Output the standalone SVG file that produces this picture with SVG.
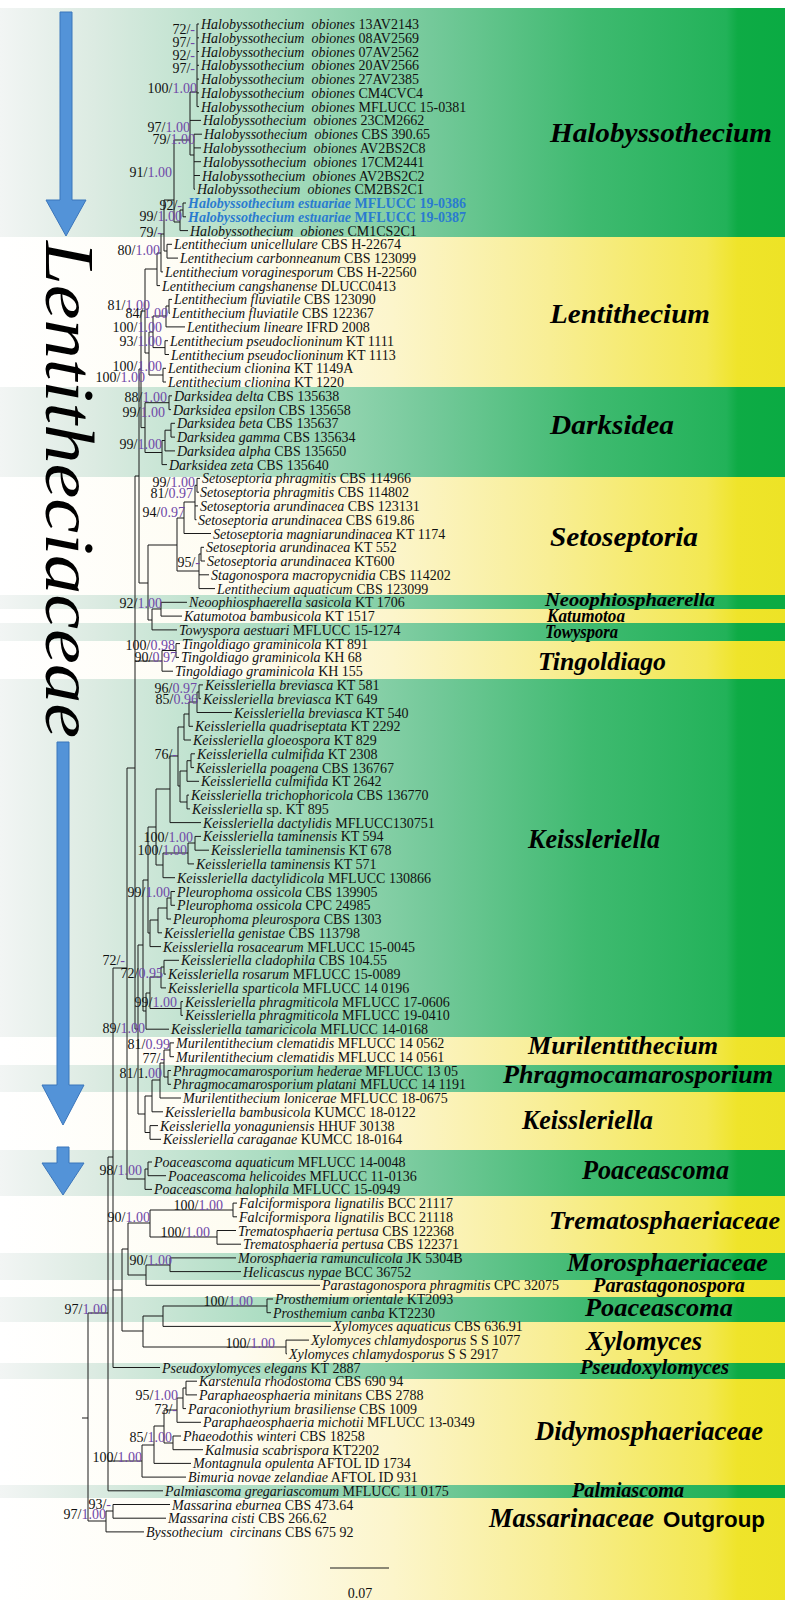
<svg xmlns="http://www.w3.org/2000/svg" width="785" height="1607" viewBox="0 0 785 1607">
<defs>
<linearGradient id="gG" x1="0" y1="0" x2="785" y2="0" gradientUnits="userSpaceOnUse">
<stop offset="0" stop-color="#f2f5f4"/><stop offset="0.12" stop-color="#dcebe2"/><stop offset="0.35" stop-color="#a9dcc0"/><stop offset="0.55" stop-color="#74c99a"/><stop offset="0.75" stop-color="#3fba70"/><stop offset="0.925" stop-color="#22b259"/><stop offset="0.94" stop-color="#0eab45"/><stop offset="1" stop-color="#0aab43"/>
</linearGradient>
<linearGradient id="gY" x1="0" y1="0" x2="785" y2="0" gradientUnits="userSpaceOnUse">
<stop offset="0" stop-color="#ffffff"/><stop offset="0.3" stop-color="#fefcf1"/><stop offset="0.5" stop-color="#fcf5cb"/><stop offset="0.7" stop-color="#f8ee95"/><stop offset="0.9" stop-color="#f3e852"/><stop offset="0.94" stop-color="#efe42a"/><stop offset="1" stop-color="#ede326"/>
</linearGradient>
<style>
.t{font-family:"Liberation Serif",serif;font-size:14px;fill:#111}
.i{font-style:italic}
.b{fill:#2a7bd0;font-weight:bold}
.s{font-family:"Liberation Serif",serif;font-size:14px;fill:#111;text-anchor:end}
.p{fill:#7048a8}
.c{font-family:"Liberation Serif",serif;font-weight:bold;font-style:italic;fill:#000}
.e{fill:none;stroke:#1a1a1a;stroke-width:1}
.ar{fill:#5393d8;stroke:#3b76bb;stroke-width:1}
</style>
</defs>
<g id="background">
<rect width="785" height="1607" fill="#fff"/>
<g fill="url(#gG)">
<rect x="0" y="8" width="785" height="229"/><rect x="0" y="387" width="785" height="90"/><rect x="0" y="595" width="785" height="14"/><rect x="0" y="623" width="785" height="18"/><rect x="0" y="679" width="785" height="358"/><rect x="0" y="1065" width="785" height="27"/><rect x="0" y="1150" width="785" height="46"/><rect x="0" y="1253" width="785" height="27"/><rect x="0" y="1297" width="785" height="25"/><rect x="0" y="1363" width="785" height="16"/><rect x="0" y="1485" width="785" height="13"/>
</g>
<g fill="url(#gY)">
<rect x="0" y="237" width="785" height="150"/><rect x="0" y="477" width="785" height="118"/><rect x="0" y="609" width="785" height="14"/><rect x="0" y="641" width="785" height="38"/><rect x="0" y="1037" width="785" height="28"/><rect x="0" y="1092" width="785" height="58"/><rect x="0" y="1196" width="785" height="57"/><rect x="0" y="1280" width="785" height="17"/><rect x="0" y="1322" width="785" height="41"/><rect x="0" y="1379" width="785" height="106"/><rect x="0" y="1498" width="785" height="102"/>
</g>
</g>
<g id="family-marker">
<polygon class="ar" points="60,12 72,12 72,200 86,200 66,236 46,200 60,200"/>
<polygon class="ar" points="57,742 69,742 69,1085 84,1085 63,1125 42,1085 57,1085"/>
<polygon class="ar" points="57,1147 69,1147 69,1163 84,1163 63,1195 42,1163 57,1163"/>
<text transform="translate(46,241) rotate(90)" font-family="Liberation Serif,serif" font-style="italic" font-size="70" textLength="497" lengthAdjust="spacingAndGlyphs" fill="#000">Lentitheciaceae</text>
</g>
<g id="connectors" class="e">
<path d="M197 24V106.6M197 24H199M197 37.8H199M197 51.5H199M197 65.3H199M197 79.1H199M197 92.9H199M197 106.6H199"/>
<path d="M194 134.2V189.2M194 134.2H202M194 147.9H201M194 161.7H201M194 175.5H200M194 189.2H195"/>
<path d="M190 92V155M190 92H197M190 120.4H201M190 155H194"/>
<path d="M183 203V216.8M183 203H186M183 216.8H186"/>
<path d="M180 210V230.6M180 210H183M180 230.6H188"/>
<path d="M174 140V222M174 140H190M174 222H180"/>
<path d="M167 244.3V258.1M167 244.3H172M167 258.1H178"/>
<path d="M164 200V251M164 200H174M164 251H167"/>
<path d="M161 234V271.9M161 234H164M161 271.9H163"/>
<path d="M157 253V285.6M157 253H161M157 285.6H160"/>
<path d="M169 299.4V313.2M169 299.4H172M169 313.2H170"/>
<path d="M166 306V326.9M166 306H169M166 326.9H185"/>
<path d="M165 340.7V354.5M165 340.7H168M165 354.5H169"/>
<path d="M153 316V347.6M153 316H166M153 347.6H165"/>
<path d="M163 368.3V382M163 368.3H166M163 382H166"/>
<path d="M149 332V375M149 332H153M149 375H163"/>
<path d="M145 269V353M145 269H157M145 353H149"/>
<path d="M169 395.8V409.6M169 395.8H172M169 409.6H171"/>
<path d="M171 423.3V437.1M171 423.3H175M171 437.1H175"/>
<path d="M165 430.2V450.9M165 430.2H171M165 450.9H175"/>
<path d="M162 440.5V464.6M162 440.5H165M162 464.6H167"/>
<path d="M145 402.7V452.5M145 402.7H169M145 452.5H162"/>
<path d="M141 311V427.6M141 311H145M141 427.6H145"/>
<path d="M197 478.4V492.2M197 478.4H200M197 492.2H199"/>
<path d="M195 485.3V519.7M195 485.3H197M195 505.9H198M195 519.7H196.5"/>
<path d="M184 502V533.5M184 502H195M184 533.5H211"/>
<path d="M201 547.3V561M201 547.3H204M201 561H205"/>
<path d="M199 554V588.6M199 554H201M199 574.8H209M199 588.6H215"/>
<path d="M177 518V571M177 518H184M177 571H199"/>
<path d="M161 602.3V616.1M161 602.3H187M161 616.1H182"/>
<path d="M152 609V629.9M152 609H161M152 629.9H177"/>
<path d="M148 545V620M148 545H177M148 620H152"/>
<path d="M139 369V583M139 369H141M139 583H148"/>
<path d="M176 643.6V657.4M176 643.6H180M176 657.4H179"/>
<path d="M162 650.5V671.2M162 650.5H176M162 671.2H173"/>
<path d="M199 684.9V698.7M199 684.9H203M199 698.7H201"/>
<path d="M197 692V712.5M197 692H199M197 712.5H232"/>
<path d="M189 702V726.3M189 702H197M189 726.3H193"/>
<path d="M184 714V740M184 714H189M184 740H191"/>
<path d="M191 753.8V767.6M191 753.8H195M191 767.6H194"/>
<path d="M187 760.7V781.3M187 760.7H191M187 781.3H199"/>
<path d="M187 795.1V808.9M187 795.1H189M187 808.9H190"/>
<path d="M180 771V802M180 771H187M180 802H187"/>
<path d="M178 727V786M178 727H184M178 786H180"/>
<path d="M170 756V822.6M170 756H178M170 822.6H201"/>
<path d="M195 836.4V850.2M195 836.4H201M195 850.2H209"/>
<path d="M188 843V863.9M188 843H195M188 863.9H194"/>
<path d="M163 853V877.7M163 853H188M163 877.7H175"/>
<path d="M156 789V865M156 789H170M156 865H163"/>
<path d="M171 891.5V905.3M171 891.5H175M171 905.3H175"/>
<path d="M167 898V919M167 898H171M167 919H171"/>
<path d="M158 908V932.8M158 908H167M158 932.8H162"/>
<path d="M150 920V946.6M150 920H158M150 946.6H161"/>
<path d="M148 827V933M148 827H156M148 933H150"/>
<path d="M164 960.3V974.1M164 960.3H179M164 974.1H166"/>
<path d="M161 967V987.9M161 967H164M161 987.9H166"/>
<path d="M181 1001.6V1015.4M181 1001.6H183M181 1015.4H183"/>
<path d="M150 977V1008.5M150 977H161M150 1008.5H181"/>
<path d="M146 993V1029.2M146 993H150M146 1029.2H169"/>
<path d="M143 880V1011M143 880H148M143 1011H146"/>
<path d="M170 1042.9V1056.7M170 1042.9H174M170 1056.7H174"/>
<path d="M168 1070.5V1084.3M168 1070.5H171M168 1084.3H171"/>
<path d="M164 1050V1077M164 1050H170M164 1077H168"/>
<path d="M160 1063V1098M160 1063H164M160 1098H181"/>
<path d="M152 1080V1111.8M152 1080H160M152 1111.8H163"/>
<path d="M150 1125.6V1139.3M150 1125.6H158M150 1139.3H161"/>
<path d="M145 1096V1132.5M145 1096H152M145 1132.5H150"/>
<path d="M138 945V1114M138 945H143M138 1114H145"/>
<path d="M135 476V1029M135 476H139M135 661H162M135 1029H138"/>
<path d="M148 1162V1175.7M148 1162H152M148 1175.7H166"/>
<path d="M145 1169V1189.4M145 1169H148M145 1189.4H152"/>
<path d="M127 768V1179M127 768H135M127 1179H145"/>
<path d="M233 1203.1V1216.8M233 1203.1H237M233 1216.8H237"/>
<path d="M217 1230.5V1244.2M217 1230.5H236M217 1244.2H241"/>
<path d="M150 1210V1237M150 1210H233M150 1237H217"/>
<path d="M170 1257.9V1271.6M170 1257.9H236M170 1271.6H241"/>
<path d="M146 1265V1285.3M146 1265H170M146 1285.3H320"/>
<path d="M128 1223V1275M128 1223H150M128 1275H146"/>
<path d="M267 1299V1312.7M267 1299H273M267 1312.7H271"/>
<path d="M163 1306V1326.4M163 1306H267M163 1326.4H331"/>
<path d="M286 1340.1V1353.8M286 1340.1H309M286 1353.8H287"/>
<path d="M143 1316V1347M143 1316H163M143 1347H286"/>
<path d="M122 1249V1331M122 1249H128M122 1331H143"/>
<path d="M113 968V1367.5M113 968H127M113 1290H122M113 1367.5H160"/>
<path d="M186 1381.2V1394.9M186 1381.2H197M186 1394.9H197"/>
<path d="M183 1388V1408.6M183 1388H186M183 1408.6H186"/>
<path d="M177 1398V1422.3M177 1398H183M177 1422.3H201"/>
<path d="M173 1436V1449.7M173 1436H181M173 1449.7H203"/>
<path d="M164 1410V1443M164 1410H177M164 1443H173"/>
<path d="M154 1426V1463.4M154 1426H164M154 1463.4H191"/>
<path d="M142 1445V1477.1M142 1445H154M142 1477.1H186"/>
<path d="M108 1157V1490.8M108 1157H113M108 1461H142M108 1490.8H163"/>
<path d="M113 1504.5V1518.2M113 1504.5H170M113 1518.2H166"/>
<path d="M106 1511V1531.9M106 1511H113M106 1531.9H144"/>
<path d="M88 1313V1521M88 1313H108M88 1521H106M82 1418H88"/>
</g>
<g id="supports" class="s">
<text x="195" y="34">72/<tspan class="p">-</tspan></text>
<text x="195" y="47">97/<tspan class="p">-</tspan></text>
<text x="195" y="60">92/<tspan class="p">-</tspan></text>
<text x="195" y="73">97/<tspan class="p">-</tspan></text>
<text x="197" y="93">100/<tspan class="p">1.00</tspan></text>
<text x="190" y="132">97/<tspan class="p">1.00</tspan></text>
<text x="195" y="144">79/<tspan class="p">1.00</tspan></text>
<text x="172" y="177">91/<tspan class="p">1.00</tspan></text>
<text x="182" y="210">92/<tspan class="p">-</tspan></text>
<text x="182" y="221">99/<tspan class="p">1.00</tspan></text>
<text x="162" y="237">79/<tspan class="p">-</tspan></text>
<text x="160" y="255">80/<tspan class="p">1.00</tspan></text>
<text x="150" y="310">81/<tspan class="p">1.00</tspan></text>
<text x="168" y="318">84/<tspan class="p">1.00</tspan></text>
<text x="162" y="332">100/<tspan class="p">1.00</tspan></text>
<text x="162" y="346">93/<tspan class="p">1.00</tspan></text>
<text x="162" y="371">100/<tspan class="p">1.00</tspan></text>
<text x="145" y="382">100/<tspan class="p">1.00</tspan></text>
<text x="167" y="402">88/<tspan class="p">1.00</tspan></text>
<text x="165" y="417">99/<tspan class="p">1.00</tspan></text>
<text x="162" y="449">99/<tspan class="p">1.00</tspan></text>
<text x="195" y="487">99/<tspan class="p">1.00</tspan></text>
<text x="193" y="498">81/<tspan class="p">0.97</tspan></text>
<text x="185" y="517">94/<tspan class="p">0.97</tspan></text>
<text x="200" y="567">95/<tspan class="p">-</tspan></text>
<text x="162" y="608">92/<tspan class="p">1.00</tspan></text>
<text x="175" y="650">100/<tspan class="p">0.98</tspan></text>
<text x="177" y="662">90/<tspan class="p">0.97</tspan></text>
<text x="197" y="693">96/<tspan class="p">0.97</tspan></text>
<text x="198" y="704">85/<tspan class="p">0.96</tspan></text>
<text x="177" y="759">76/<tspan class="p">-</tspan></text>
<text x="193" y="842">100/<tspan class="p">1.00</tspan></text>
<text x="187" y="855">100/<tspan class="p">1.00</tspan></text>
<text x="170" y="897">99/<tspan class="p">1.00</tspan></text>
<text x="125" y="965">72/<tspan class="p">-</tspan></text>
<text x="163" y="978">72/<tspan class="p">0.95</tspan></text>
<text x="177" y="1007">99/<tspan class="p">1.00</tspan></text>
<text x="145" y="1033">89/<tspan class="p">1.00</tspan></text>
<text x="170" y="1049">81/<tspan class="p">0.99</tspan></text>
<text x="165" y="1063">77/<tspan class="p">-</tspan></text>
<text x="162" y="1078">81/1.<tspan class="p">00</tspan></text>
<text x="142" y="1175">98/<tspan class="p">1.00</tspan></text>
<text x="223" y="1210">100/<tspan class="p">1.00</tspan></text>
<text x="150" y="1222">90/<tspan class="p">1.00</tspan></text>
<text x="210" y="1237">100/<tspan class="p">1.00</tspan></text>
<text x="172" y="1265">90/<tspan class="p">1.00</tspan></text>
<text x="253" y="1306">100/<tspan class="p">1.00</tspan></text>
<text x="107" y="1314">97/<tspan class="p">1.00</tspan></text>
<text x="275" y="1348">100/<tspan class="p">1.00</tspan></text>
<text x="178" y="1400">95/<tspan class="p">1.00</tspan></text>
<text x="177" y="1414">73/<tspan class="p">-</tspan></text>
<text x="172" y="1442">85/<tspan class="p">1.00</tspan></text>
<text x="142" y="1462">100/<tspan class="p">1.00</tspan></text>
<text x="111" y="1509">93/<tspan class="p">-</tspan></text>
<text x="106" y="1519">97/<tspan class="p">1.00</tspan></text>
</g>
<g id="clade-halobyssothecium" class="t">
<text x="201" y="29"><tspan class="i">Halobyssothecium&#160; obiones</tspan> 13AV2143</text>
<text x="201" y="42.8"><tspan class="i">Halobyssothecium&#160; obiones</tspan> 08AV2569</text>
<text x="201" y="56.5"><tspan class="i">Halobyssothecium&#160; obiones</tspan> 07AV2562</text>
<text x="201" y="70.3"><tspan class="i">Halobyssothecium&#160; obiones</tspan> 20AV2566</text>
<text x="201" y="84.1"><tspan class="i">Halobyssothecium&#160; obiones</tspan> 27AV2385</text>
<text x="201" y="97.9"><tspan class="i">Halobyssothecium&#160; obiones</tspan> CM4CVC4</text>
<text x="201" y="111.6"><tspan class="i">Halobyssothecium&#160; obiones</tspan> MFLUCC 15-0381</text>
<text x="203" y="125.4"><tspan class="i">Halobyssothecium&#160; obiones</tspan> 23CM2662</text>
<text x="204" y="139.2"><tspan class="i">Halobyssothecium&#160; obiones</tspan> CBS 390.65</text>
<text x="203" y="152.9"><tspan class="i">Halobyssothecium&#160; obiones</tspan> AV2BS2C8</text>
<text x="203" y="166.7"><tspan class="i">Halobyssothecium&#160; obiones</tspan> 17CM2441</text>
<text x="202" y="180.5"><tspan class="i">Halobyssothecium&#160; obiones</tspan> AV2BS2C2</text>
<text x="197" y="194.2"><tspan class="i">Halobyssothecium&#160; obiones</tspan> CM2BS2C1</text>
<text x="188" y="208" class="b"><tspan class="i">Halobyssothecium estuariae</tspan> MFLUCC 19-0386</text>
<text x="188" y="221.8" class="b"><tspan class="i">Halobyssothecium estuariae</tspan> MFLUCC 19-0387</text>
<text x="190" y="235.6"><tspan class="i">Halobyssothecium&#160; obiones</tspan> CM1CS2C1</text>
<text class="c" x="550" y="142" font-size="28" textLength="222" lengthAdjust="spacingAndGlyphs">Halobyssothecium</text>
</g>
<g id="clade-lentithecium" class="t">
<text x="174" y="249.3"><tspan class="i">Lentithecium unicellulare</tspan> CBS H-22674</text>
<text x="180" y="263.1"><tspan class="i">Lentithecium carbonneanum</tspan> CBS 123099</text>
<text x="165" y="276.9"><tspan class="i">Lentithecium voraginesporum</tspan> CBS H-22560</text>
<text x="162" y="290.6"><tspan class="i">Lentithecium cangshanense</tspan> DLUCC0413</text>
<text x="174" y="304.4"><tspan class="i">Lentithecium fluviatile</tspan> CBS 123090</text>
<text x="172" y="318.2"><tspan class="i">Lentithecium fluviatile</tspan> CBS 122367</text>
<text x="187" y="331.9"><tspan class="i">Lentithecium lineare</tspan> IFRD 2008</text>
<text x="170" y="345.7"><tspan class="i">Lentithecium pseudoclioninum</tspan> KT 1111</text>
<text x="171" y="359.5"><tspan class="i">Lentithecium pseudoclioninum</tspan> KT 1113</text>
<text x="168" y="373.3"><tspan class="i">Lentithecium clionina</tspan> KT 1149A</text>
<text x="168" y="387"><tspan class="i">Lentithecium clionina</tspan> KT 1220</text>
<text class="c" x="550" y="323" font-size="28" textLength="160" lengthAdjust="spacingAndGlyphs">Lentithecium</text>
</g>
<g id="clade-darksidea" class="t">
<text x="174" y="400.8"><tspan class="i">Darksidea delta</tspan> CBS 135638</text>
<text x="173" y="414.6"><tspan class="i">Darksidea epsilon</tspan> CBS 135658</text>
<text x="177" y="428.3"><tspan class="i">Darksidea beta</tspan> CBS 135637</text>
<text x="177" y="442.1"><tspan class="i">Darksidea gamma</tspan> CBS 135634</text>
<text x="177" y="455.9"><tspan class="i">Darksidea alpha</tspan> CBS 135650</text>
<text x="169" y="469.6"><tspan class="i">Darksidea zeta</tspan> CBS 135640</text>
<text class="c" x="550" y="434" font-size="28" textLength="124" lengthAdjust="spacingAndGlyphs">Darksidea</text>
</g>
<g id="clade-setoseptoria" class="t">
<text x="202" y="483.4"><tspan class="i">Setoseptoria phragmitis</tspan> CBS 114966</text>
<text x="200" y="497.2"><tspan class="i">Setoseptoria phragmitis</tspan> CBS 114802</text>
<text x="200" y="510.9"><tspan class="i">Setoseptoria arundinacea</tspan> CBS 123131</text>
<text x="198" y="524.7"><tspan class="i">Setoseptoria arundinacea</tspan> CBS 619.86</text>
<text x="213" y="538.5"><tspan class="i">Setoseptoria magniarundinacea</tspan> KT 1174</text>
<text x="206" y="552.3"><tspan class="i">Setoseptoria arundinacea</tspan> KT 552</text>
<text x="207" y="566"><tspan class="i">Setoseptoria arundinacea</tspan> KT600</text>
<text x="211" y="579.8"><tspan class="i">Stagonospora macropycnidia</tspan> CBS 114202</text>
<text x="217" y="593.6"><tspan class="i">Lentithecium aquaticum</tspan> CBS 123099</text>
<text class="c" x="550" y="546" font-size="28" textLength="148" lengthAdjust="spacingAndGlyphs">Setoseptoria</text>
</g>
<g id="clade-small" class="t">
<text x="189" y="607.3"><tspan class="i">Neoophiosphaerella sasicola</tspan> KT 1706</text>
<text x="184" y="621.1"><tspan class="i">Katumotoa bambusicola</tspan> KT 1517</text>
<text x="179" y="634.9"><tspan class="i">Towyspora aestuari</tspan> MFLUCC 15-1274</text>
<text class="c" x="545" y="606" font-size="18" textLength="170" lengthAdjust="spacingAndGlyphs">Neoophiosphaerella</text>
<text class="c" x="547" y="622" font-size="18" textLength="78" lengthAdjust="spacingAndGlyphs">Katumotoa</text>
<text class="c" x="545" y="638" font-size="18" textLength="73" lengthAdjust="spacingAndGlyphs">Towyspora</text>
</g>
<g id="clade-tingoldiago" class="t">
<text x="182" y="648.6"><tspan class="i">Tingoldiago graminicola</tspan> KT 891</text>
<text x="181" y="662.4"><tspan class="i">Tingoldiago graminicola</tspan> KH 68</text>
<text x="175" y="676.2"><tspan class="i">Tingoldiago graminicola</tspan> KH 155</text>
<text class="c" x="538" y="670" font-size="26" textLength="128" lengthAdjust="spacingAndGlyphs">Tingoldiago</text>
</g>
<g id="clade-keissleriella" class="t">
<text x="205" y="689.9"><tspan class="i">Keissleriella breviasca</tspan> KT 581</text>
<text x="203" y="703.7"><tspan class="i">Keissleriella breviasca</tspan> KT 649</text>
<text x="234" y="717.5"><tspan class="i">Keissleriella breviasca</tspan> KT 540</text>
<text x="195" y="731.3"><tspan class="i">Keissleriella quadriseptata</tspan> KT 2292</text>
<text x="193" y="745"><tspan class="i">Keissleriella gloeospora</tspan> KT 829</text>
<text x="197" y="758.8"><tspan class="i">Keissleriella culmifida</tspan> KT 2308</text>
<text x="196" y="772.6"><tspan class="i">Keissleriella poagena</tspan> CBS 136767</text>
<text x="201" y="786.3"><tspan class="i">Keissleriella culmifida</tspan> KT 2642</text>
<text x="191" y="800.1"><tspan class="i">Keissleriella trichophoricola</tspan> CBS 136770</text>
<text x="192" y="813.9"><tspan class="i">Keissleriella</tspan> sp. KT 895</text>
<text x="203" y="827.6"><tspan class="i">Keissleriella dactylidis</tspan> MFLUCC130751</text>
<text x="203" y="841.4"><tspan class="i">Keissleriella taminensis</tspan> KT 594</text>
<text x="211" y="855.2"><tspan class="i">Keissleriella taminensis</tspan> KT 678</text>
<text x="196" y="868.9"><tspan class="i">Keissleriella taminensis</tspan> KT 571</text>
<text x="177" y="882.7"><tspan class="i">Keissleriella dactylidicola</tspan> MFLUCC 130866</text>
<text x="177" y="896.5"><tspan class="i">Pleurophoma ossicola</tspan> CBS 139905</text>
<text x="177" y="910.3"><tspan class="i">Pleurophoma ossicola</tspan> CPC 24985</text>
<text x="173" y="924"><tspan class="i">Pleurophoma pleurospora</tspan> CBS 1303</text>
<text x="164" y="937.8"><tspan class="i">Keissleriella genistae</tspan> CBS 113798</text>
<text x="163" y="951.6"><tspan class="i">Keissleriella rosacearum</tspan> MFLUCC 15-0045</text>
<text x="181" y="965.3"><tspan class="i">Keissleriella cladophila</tspan> CBS 104.55</text>
<text x="168" y="979.1"><tspan class="i">Keissleriella rosarum</tspan> MFLUCC 15-0089</text>
<text x="168" y="992.9"><tspan class="i">Keissleriella sparticola</tspan> MFLUCC 14 0196</text>
<text x="185" y="1006.6"><tspan class="i">Keissleriella phragmiticola</tspan> MFLUCC 17-0606</text>
<text x="185" y="1020.4"><tspan class="i">Keissleriella phragmiticola</tspan> MFLUCC 19-0410</text>
<text x="171" y="1034.2"><tspan class="i">Keissleriella tamaricicola</tspan> MFLUCC 14-0168</text>
<text class="c" x="528" y="848" font-size="28" textLength="132" lengthAdjust="spacingAndGlyphs">Keissleriella</text>
</g>
<g id="clade-murilentithecium" class="t">
<text x="176" y="1047.9"><tspan class="i">Murilentithecium clematidis</tspan> MFLUCC 14 0562</text>
<text x="176" y="1061.7"><tspan class="i">Murilentithecium clematidis</tspan> MFLUCC 14 0561</text>
<text class="c" x="528" y="1054" font-size="26" textLength="190" lengthAdjust="spacingAndGlyphs">Murilentithecium</text>
</g>
<g id="clade-phragmocamarosporium" class="t">
<text x="173" y="1075.5"><tspan class="i">Phragmocamarosporium hederae</tspan> MFLUCC 13 05</text>
<text x="173" y="1089.3"><tspan class="i">Phragmocamarosporium platani</tspan> MFLUCC 14 1191</text>
<text class="c" x="503" y="1083" font-size="26" textLength="270" lengthAdjust="spacingAndGlyphs">Phragmocamarosporium</text>
</g>
<g id="clade-keissleriella-2" class="t">
<text x="183" y="1103"><tspan class="i">Murilentithecium lonicerae</tspan> MFLUCC 18-0675</text>
<text x="165" y="1116.8"><tspan class="i">Keissleriella bambusicola</tspan> KUMCC 18-0122</text>
<text x="160" y="1130.6"><tspan class="i">Keissleriella yonaguniensis</tspan> HHUF 30138</text>
<text x="163" y="1144.3"><tspan class="i">Keissleriella caraganae</tspan> KUMCC 18-0164</text>
<text class="c" x="522" y="1129" font-size="28" textLength="131" lengthAdjust="spacingAndGlyphs">Keissleriella</text>
</g>
<g id="clade-poaceascoma" class="t">
<text x="154" y="1167"><tspan class="i">Poaceascoma aquaticum</tspan> MFLUCC 14-0048</text>
<text x="168" y="1180.7"><tspan class="i">Poaceascoma helicoides</tspan> MFLUCC 11-0136</text>
<text x="154" y="1194.4"><tspan class="i">Poaceascoma halophila</tspan> MFLUCC 15-0949</text>
<text class="c" x="582" y="1179" font-size="28" textLength="147" lengthAdjust="spacingAndGlyphs">Poaceascoma</text>
</g>
<g id="clade-trematosphaeriaceae" class="t">
<text x="239" y="1208.1"><tspan class="i">Falciformispora lignatilis</tspan> BCC 21117</text>
<text x="239" y="1221.8"><tspan class="i">Falciformispora lignatilis</tspan> BCC 21118</text>
<text x="238" y="1235.5"><tspan class="i">Trematosphaeria pertusa</tspan> CBS 122368</text>
<text x="243" y="1249.2"><tspan class="i">Trematosphaeria pertusa</tspan> CBS 122371</text>
<text class="c" x="549" y="1229" font-size="26" textLength="231" lengthAdjust="spacingAndGlyphs">Trematosphaeriaceae</text>
</g>
<g id="clade-morosphaeriaceae" class="t">
<text x="238" y="1262.9"><tspan class="i">Morosphaeria ramunculicola</tspan> JK 5304B</text>
<text x="243" y="1276.6"><tspan class="i">Helicascus nypae</tspan> BCC 36752</text>
<text class="c" x="567" y="1271" font-size="26" textLength="201" lengthAdjust="spacingAndGlyphs">Morosphaeriaceae</text>
</g>
<g id="clade-parastagonospora" class="t">
<text x="322" y="1290.3"><tspan class="i">Parastagonospora phragmitis</tspan> CPC 32075</text>
<text class="c" x="593" y="1292" font-size="20" textLength="152" lengthAdjust="spacingAndGlyphs">Parastagonospora</text>
</g>
<g id="clade-prosthemium" class="t">
<text x="275" y="1304"><tspan class="i">Prosthemium orientale</tspan> KT2093</text>
<text x="273" y="1317.7"><tspan class="i">Prosthemium canba</tspan> KT2230</text>
<text class="c" x="585" y="1316" font-size="26" textLength="148" lengthAdjust="spacingAndGlyphs">Poaceascoma</text>
</g>
<g id="clade-xylomyces" class="t">
<text x="333" y="1331.4"><tspan class="i">Xylomyces aquaticus</tspan> CBS 636.91</text>
<text x="311" y="1345.1"><tspan class="i">Xylomyces chlamydosporus</tspan> S S 1077</text>
<text x="289" y="1358.8"><tspan class="i">Xylomyces chlamydosporus</tspan> S S 2917</text>
<text class="c" x="586" y="1350" font-size="28" textLength="116" lengthAdjust="spacingAndGlyphs">Xylomyces</text>
</g>
<g id="clade-pseudoxylomyces" class="t">
<text x="162" y="1372.5"><tspan class="i">Pseudoxylomyces elegans</tspan> KT 2887</text>
<text class="c" x="580" y="1374" font-size="20" textLength="149" lengthAdjust="spacingAndGlyphs">Pseudoxylomyces</text>
</g>
<g id="clade-didymosphaeriaceae" class="t">
<text x="199" y="1386.2"><tspan class="i">Karstenula rhodostoma</tspan> CBS 690 94</text>
<text x="199" y="1399.9"><tspan class="i">Paraphaeosphaeria minitans</tspan> CBS 2788</text>
<text x="188" y="1413.6"><tspan class="i">Paraconiothyrium brasiliense</tspan> CBS 1009</text>
<text x="203" y="1427.3"><tspan class="i">Paraphaeosphaeria michotii</tspan> MFLUCC 13-0349</text>
<text x="183" y="1441"><tspan class="i">Phaeodothis winteri</tspan> CBS 18258</text>
<text x="205" y="1454.7"><tspan class="i">Kalmusia scabrispora</tspan> KT2202</text>
<text x="193" y="1468.4"><tspan class="i">Montagnula opulenta</tspan> AFTOL ID 1734</text>
<text x="188" y="1482.1"><tspan class="i">Bimuria novae zelandiae</tspan> AFTOL ID 931</text>
<text class="c" x="535" y="1440" font-size="28" textLength="228" lengthAdjust="spacingAndGlyphs">Didymosphaeriaceae</text>
</g>
<g id="clade-palmiascoma" class="t">
<text x="165" y="1495.8"><tspan class="i">Palmiascoma gregariascomum</tspan> MFLUCC 11 0175</text>
<text class="c" x="572" y="1497" font-size="20" textLength="112" lengthAdjust="spacingAndGlyphs">Palmiascoma</text>
</g>
<g id="clade-massarinaceae" class="t">
<text x="172" y="1509.5"><tspan class="i">Massarina eburnea</tspan> CBS 473.64</text>
<text x="168" y="1523.2"><tspan class="i">Massarina cisti</tspan> CBS 266.62</text>
<text x="146" y="1536.9"><tspan class="i">Byssothecium&#160; circinans</tspan> CBS 675 92</text>
<text class="c" x="489" y="1527" font-size="28" textLength="165" lengthAdjust="spacingAndGlyphs">Massarinaceae</text>
<text x="663" y="1527" font-family="Liberation Sans,sans-serif" font-weight="bold" font-size="22" textLength="102" lengthAdjust="spacingAndGlyphs" fill="#000">Outgroup</text>
</g>
<g id="scale-bar">
<path d="M330 1568H389" stroke="#1a1a1a" stroke-width="1"/>
<text x="360" y="1598" class="t" text-anchor="middle">0.07</text>
</g>
</svg>
